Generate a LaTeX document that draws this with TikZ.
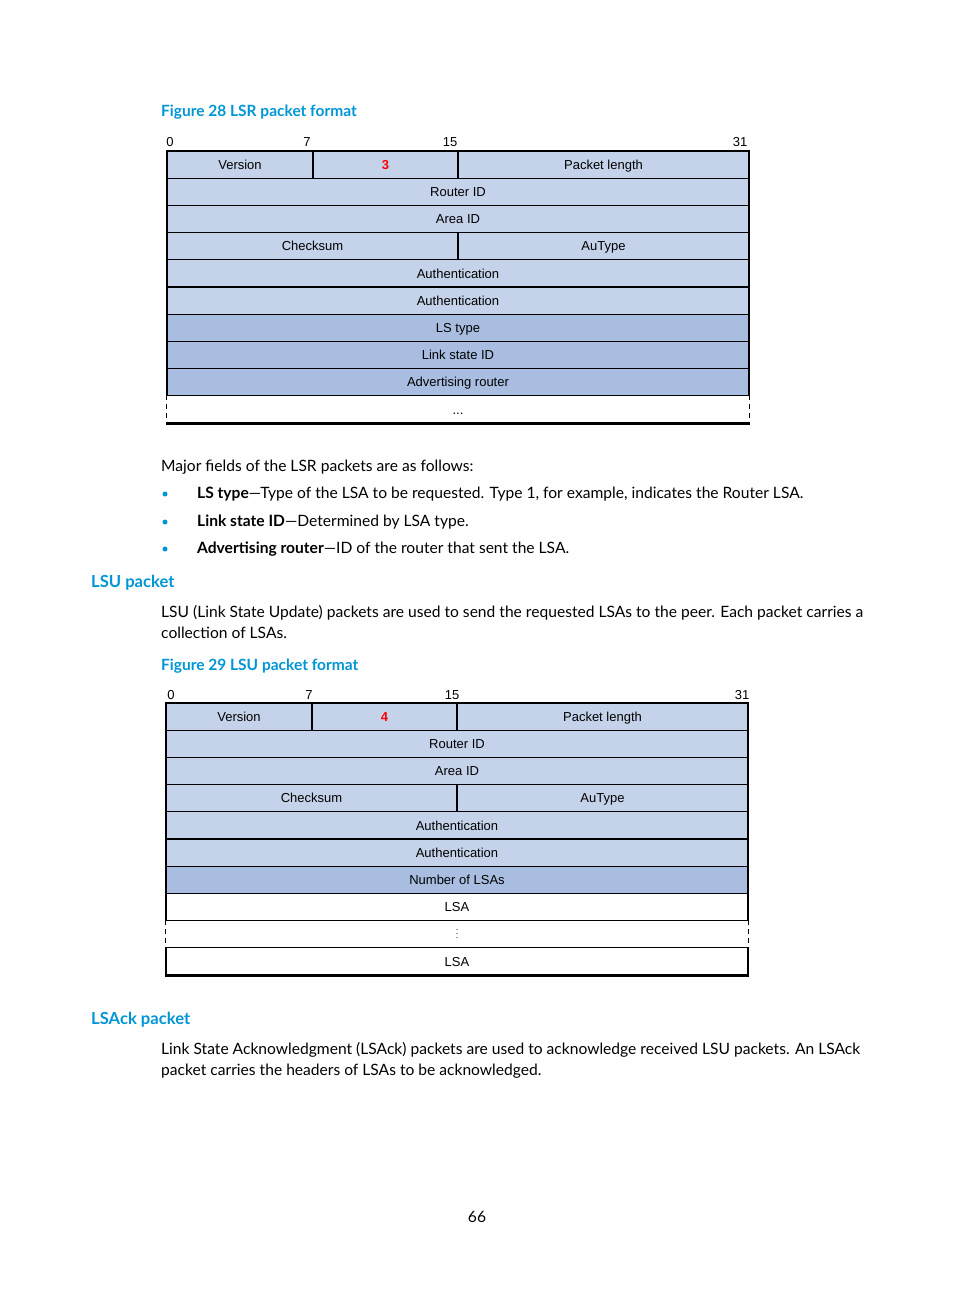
\documentclass[tikz,border=0pt]{standalone}
\usepackage{fontspec}
\setmainfont{Lato}
\newfontfamily\diagfont{Liberation Sans}
\usetikzlibrary{positioning}

\definecolor{hpblue}{RGB}{0,150,214}
\definecolor{fieldlight}{RGB}{197,211,234}
\definecolor{fielddark}{RGB}{168,189,224}

\tikzset{
  field/.style={draw, line width=1.3pt, fill=fieldlight, inner sep=0pt,
    minimum height=27.2pt, text height=9.5pt, text depth=0pt,
    font=\diagfont\fontsize{13}{15}\selectfont},
  wide/.style={minimum width=582pt},
  half/.style={minimum width=291pt},
  darkfield/.style={fill=fielddark},
  emptyfield/.style={fill=white},
  typeval/.style={text=red, font=\diagfont\bfseries\fontsize{13}{15}\selectfont},
  bitnum/.style={anchor=base, inner sep=0pt, font=\diagfont\fontsize{13}{15}\selectfont},
  bodytext/.style={anchor=base west, inner sep=0pt, font=\fontsize{15.6}{19}\selectfont},
  figcap/.style={anchor=base west, inner sep=0pt, text=hpblue, font=\bfseries\fontsize{15.5}{19}\selectfont},
  sechead/.style={anchor=base west, inner sep=0pt, text=hpblue, font=\bfseries\fontsize{16.6}{20}\selectfont},
  bulletdot/.style={circle, fill=hpblue, inner sep=0pt, minimum size=5pt},
  sideline/.style={line width=1.3pt, dash pattern=on 5pt off 4pt},
}

\begin{document}
\begin{tikzpicture}[x=1pt, y=-1pt]
\useasboundingbox[fill=white] (0,0) rectangle (954,1296);

% Figure 28
\node[figcap] (cap28) at (161,116) {Figure 28 LSR packet format};
\node[bitnum] (lsrb0) at (170,146) {0};
\node[bitnum] (lsrb7) at (307,146) {7};
\node[bitnum] (lsrb15) at (450,146) {15};
\node[bitnum] (lsrb31) at (740,146) {31};

\node[field, minimum width=146pt] (lsrver) at (240,164.6) {Version};
\node[field, minimum width=145pt, typeval] (lsrtype) at (385.5,164.6) {3};
\node[field, half] (lsrlen) at (603.5,164.6) {Packet length};
\node[field, wide] (lsrrid) at (458,191.8) {Router ID};
\node[field, wide] (lsraid) at (458,219) {Area ID};
\node[field, half] (lsrck) at (312.5,246.2) {Checksum};
\node[field, half] (lsrau) at (603.5,246.2) {AuType};
\node[field, wide] (lsrauth1) at (458,273.4) {Authentication};
\node[field, wide] (lsrauth2) at (458,300.6) {Authentication};
\node[field, wide, darkfield] (lsrlst) at (458,327.8) {LS type};
\node[field, wide, darkfield] (lsrlsid) at (458,355) {Link state ID};
\node[field, wide, darkfield] (lsradv) at (458,382.2) {Advertising router};
\node[field, wide, emptyfield, draw=none] (lsrmore) at (458,409.4) {...};
\draw[sideline] (lsrmore.north west) -- (lsrmore.south west);
\draw[sideline] (lsrmore.north east) -- (lsrmore.south east);
\draw[line width=2.6pt] (lsrmore.south west) -- (lsrmore.south east);

% LSR fields
\node[bodytext] (lsrintro) at (161,471) {Major fields of the LSR packets are as follows:};
\node[bulletdot] (dot1) at (165,494) {};
\node[bodytext] (item1) at (197,498) {\textbf{LS type}—Type of the LSA to be requested. Type 1, for example, indicates the Router LSA.};
\node[bulletdot] (dot2) at (165,522) {};
\node[bodytext] (item2) at (197,526) {\textbf{Link state ID}—Determined by LSA type.};
\node[bulletdot] (dot3) at (165,549) {};
\node[bodytext] (item3) at (197,553) {\textbf{Advertising router}—ID of the router that sent the LSA.};

% LSU packet
\node[sechead] (lsuhead) at (91,587) {LSU packet};
\node[bodytext] (lsupar1) at (161,617) {LSU (Link State Update) packets are used to send the requested LSAs to the peer. Each packet carries a};
\node[bodytext] (lsupar2) at (161,638) {collection of LSAs.};

% Figure 29
\node[figcap] (cap29) at (161,670) {Figure 29 LSU packet format};
\node[bitnum] (lsub0) at (171,699) {0};
\node[bitnum] (lsub7) at (309,699) {7};
\node[bitnum] (lsub15) at (452,699) {15};
\node[bitnum] (lsub31) at (742,699) {31};

\node[field, minimum width=146pt] (lsuver) at (239,716.6) {Version};
\node[field, minimum width=145pt, typeval] (lsutype) at (384.5,716.6) {4};
\node[field, half] (lsulen) at (602.5,716.6) {Packet length};
\node[field, wide] (lsurid) at (457,743.8) {Router ID};
\node[field, wide] (lsuaid) at (457,771) {Area ID};
\node[field, half] (lsuck) at (311.5,798.2) {Checksum};
\node[field, half] (lsuau) at (602.5,798.2) {AuType};
\node[field, wide] (lsuauth1) at (457,825.4) {Authentication};
\node[field, wide] (lsuauth2) at (457,852.6) {Authentication};
\node[field, wide, darkfield] (lsunum) at (457,879.8) {Number of LSAs};
\node[field, wide, emptyfield] (lsulsa1) at (457,907) {LSA};
\node[field, wide, emptyfield, draw=none] (lsumore) at (457,934.2) {\fontsize{9}{9}\selectfont$\vdots$};
\draw[sideline] (lsumore.north west) -- (lsumore.south west);
\draw[sideline] (lsumore.north east) -- (lsumore.south east);
\node[field, wide, emptyfield] (lsulsa2) at (457,961.4) {LSA};
\draw[line width=2.6pt] (lsulsa2.south west) -- (lsulsa2.south east);

% LSAck packet
\node[sechead] (ackhead) at (91,1024) {LSAck packet};
\node[bodytext] (ackpar1) at (161,1054) {Link State Acknowledgment (LSAck) packets are used to acknowledge received LSU packets. An LSAck};
\node[bodytext] (ackpar2) at (161,1075) {packet carries the headers of LSAs to be acknowledged.};

\node[bodytext, anchor=base] (pagenum) at (477,1222) {66};
\end{tikzpicture}
\end{document}
